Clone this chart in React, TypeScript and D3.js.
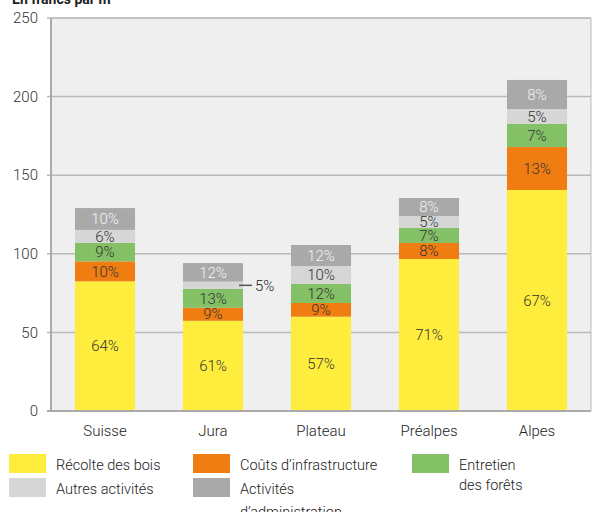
import React from "react";
import * as d3 from "d3";

const categories = ["Suisse", "Jura", "Plateau", "Préalpes", "Alpes"];
const recolte = [82.5, 57.4, 60.0, 96.7, 140.6];
const infrastructure = [12.7, 8.3, 8.7, 10.2, 27.3];
const entretien = [11.8, 11.9, 12.1, 9.5, 14.7];
const autres = [8.2, 4.7, 11.4, 7.6, 9.5];
const administration = [13.9, 11.8, 13.4, 11.5, 18.5];
const pctRecolte = ["64%", "61%", "57%", "71%", "67%"];
const pctInfra = ["10%", "9%", "9%", "8%", "13%"];
const pctEntretien = ["9%", "13%", "12%", "7%", "7%"];
const pctAutres = ["6%", "5%", "10%", "5%", "5%"];
const pctAdmin = ["10%", "12%", "12%", "8%", "8%"];
const yTicks = [0, 50, 100, 150, 200, 250];

const colors = ["#ffed3d", "#ef7d12", "#84c066", "#d5d6d5", "#a9a9a9"];
const labelColors = ["#333", "#333", "#333", "#333", "#f4f4f4"];
const FONT = "Roboto, sans-serif";

const W = 593;
const H = 512;
const M = { left: 51, right: 2, top: 18, bottom: 101 };

export default function App() {
  const series = [recolte, infrastructure, entretien, autres, administration];
  const pcts = [pctRecolte, pctInfra, pctEntretien, pctAutres, pctAdmin];
  const x = d3.scaleBand().domain(categories).range([M.left, W - M.right]).paddingInner(0.444).paddingOuter(0.222);
  const y = d3.scaleLinear().domain([0, 250]).range([H - M.bottom, M.top]);

  const rows = categories.map((c, i) => {
    const o: any = { cat: c };
    series.forEach((s, k) => (o["s" + k] = s[i]));
    return o;
  });
  const stacked = d3.stack<any>().keys(series.map((_, k) => "s" + k))(rows);

  // legend layout: two rows, three columns
  const legend = [
    { k: 0, x: 9, y: 454, lines: ["Récolte des bois"], lh: 20 },
    { k: 1, x: 193, y: 454, lines: ["Coûts d’infrastructure"], lh: 20 },
    { k: 2, x: 412, y: 454, lines: ["Entretien", "des forêts"], lh: 20 },
    { k: 3, x: 9, y: 478, lines: ["Autres activités"], lh: 20 },
    { k: 4, x: 193, y: 478, lines: ["Activités", "d’administration"], lh: 23 },
  ];

  return (
    <svg width={W} height={H} style={{ position: "absolute", left: 0, top: 0, fontFamily: FONT }}>
      <rect x={0} y={0} width={W} height={H} fill="#fff" />
      <text x={12} y={4} fontSize={14} fontWeight={700} fill="#222">En francs par m³</text>
      <rect x={M.left} y={M.top} width={W - M.right - M.left} height={y(0) - M.top} fill="#efefef" />
      {yTicks.map((t) => (
        <g key={t}>
          {t > 0 && <line x1={M.left - 4} x2={W - M.right} y1={y(t)} y2={y(t)} stroke="#b9b9b9" strokeWidth={1.5} />}
          <text x={38} y={y(t)} dy="0.35em" textAnchor="end" fontSize={15} fontWeight={300} fill="#333">{t}</text>
        </g>
      ))}
      {stacked.map((layer, k) => (
        <g key={k}>
          {layer.map((d, i) => (
            <rect key={i} x={x(categories[i])} width={x.bandwidth()} y={y(d[1])} height={y(d[0]) - y(d[1])} fill={colors[k]} />
          ))}
        </g>
      ))}
      {stacked.map((layer, k) =>
        layer.map((d, i) => {
          const cx = (x(categories[i]) as number) + x.bandwidth() / 2;
          const cy = (y(d[0]) + y(d[1])) / 2;
          const small = y(d[0]) - y(d[1]) < 10;
          if (small) {
            const xr = (x(categories[i]) as number) + x.bandwidth();
            return (
              <g key={k + "-" + i}>
                <line x1={xr - 4} x2={xr + 9} y1={cy} y2={cy} stroke="#555" strokeWidth={1.5} />
                <text x={xr + 12} y={cy} dy="0.35em" fontSize={15} fontWeight={300} fill="#222">{pcts[k][i]}</text>
              </g>
            );
          }
          return (
            <text key={k + "-" + i} x={cx} y={cy} dy="0.35em" textAnchor="middle" fontSize={15} fontWeight={300} fill={labelColors[k]}>{pcts[k][i]}</text>
          );
        })
      )}
      <line x1={M.left} x2={M.left} y1={M.top} y2={y(0)} stroke="#aaa" strokeWidth={2} />
      <line x1={M.left} x2={W - M.right} y1={M.top} y2={M.top} stroke="#bbb" strokeWidth={1} />
      <line x1={W - M.right} x2={W - M.right} y1={M.top} y2={y(0)} stroke="#bbb" strokeWidth={1} />
      <line x1={M.left - 4} x2={W - M.right} y1={y(0)} y2={y(0)} stroke="#aaa" strokeWidth={2} />
      {categories.map((c) => (
        <text key={c} x={(x(c) as number) + x.bandwidth() / 2} y={436} textAnchor="middle" fontSize={15} fontWeight={300} fill="#222">{c}</text>
      ))}
      {legend.map((l) => (
        <g key={l.k}>
          <rect x={l.x} y={l.y} width={37} height={19} fill={colors[l.k]} />
          {l.lines.map((t, j) => (
            <text key={j} x={l.x + 47} y={l.y + 16 + j * l.lh} fontSize={14.5} fontWeight={300} fill="#222">{t}</text>
          ))}
        </g>
      ))}
    </svg>
  );
}
